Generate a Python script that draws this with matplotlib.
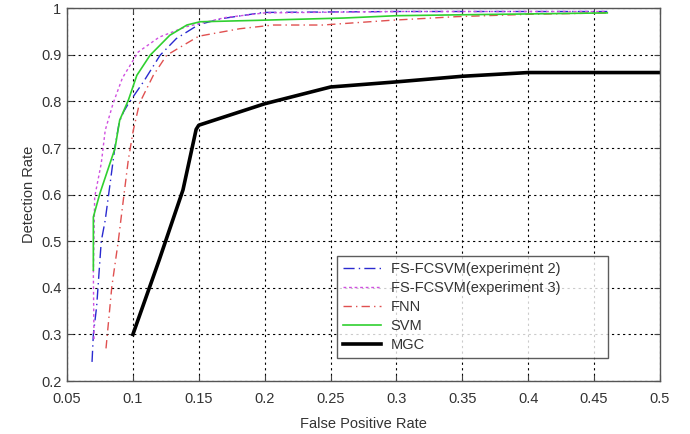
import matplotlib
matplotlib.use('Agg')
import matplotlib.pyplot as plt

# ROC-кривые для разных методов
fs2_x = [0.069, 0.070, 0.0725, 0.076, 0.079, 0.083, 0.0864, 0.0897, 0.093, 0.0965, 0.108, 0.1206,
         0.133, 0.150, 0.168, 0.199, 0.30, 0.40, 0.46]
fs2_y = [0.241, 0.30, 0.36, 0.50, 0.545, 0.63, 0.703, 0.756, 0.778, 0.795, 0.842, 0.899,
         0.935, 0.965, 0.978, 0.991, 0.993, 0.993, 0.993]

fs3_x = [0.0705, 0.070, 0.071, 0.076, 0.079, 0.085, 0.092, 0.098, 0.104, 0.12, 0.14, 0.17, 0.20, 0.30, 0.46]
fs3_y = [0.29, 0.43, 0.595, 0.667, 0.738, 0.796, 0.85, 0.878, 0.906, 0.938, 0.96, 0.98, 0.99, 0.993, 0.993]

fnn_x = [0.0796, 0.084, 0.089, 0.0915, 0.0965, 0.1003, 0.105, 0.1155, 0.1256, 0.138, 0.150,
         0.181, 0.2066, 0.244, 0.295, 0.346, 0.40, 0.46]
fnn_y = [0.27, 0.402, 0.502, 0.56, 0.674, 0.738, 0.796, 0.856, 0.899, 0.92, 0.94,
         0.956, 0.964, 0.964, 0.974, 0.982, 0.987, 0.99]

svm_x = [0.070, 0.070, 0.075, 0.0864, 0.090, 0.0966, 0.103, 0.113, 0.128, 0.141, 0.151,
         0.194, 0.26, 0.30, 0.35, 0.46]
svm_y = [0.438, 0.552, 0.603, 0.699, 0.76, 0.803, 0.856, 0.899, 0.942, 0.964, 0.971,
         0.974, 0.979, 0.984, 0.986, 0.99]

mgc_x = [0.10, 0.12, 0.138, 0.148, 0.15, 0.20, 0.25, 0.30, 0.35, 0.40, 0.50]
mgc_y = [0.30, 0.46, 0.61, 0.74, 0.749, 0.795, 0.831, 0.842, 0.854, 0.862, 0.862]

x_ticks = [0.05, 0.1, 0.15, 0.2, 0.25, 0.3, 0.35, 0.4, 0.45, 0.5]
y_ticks = [0.2, 0.3, 0.4, 0.5, 0.6, 0.7, 0.8, 0.9, 1.0]

plt.rcParams['font.family'] = ['Liberation Sans', 'DejaVu Sans']
txt = '#333333'

fig = plt.figure(figsize=(6.9, 4.34), dpi=100)
ax = fig.add_axes([0.0971, 0.1221, 0.8594, 0.8589])

ax.plot(fs2_x, fs2_y, color='#2a2ad0', lw=1.0, dashes=(8, 3, 1, 3), label='FS-FCSVM(experiment 2)')
ax.plot(fs3_x, fs3_y, color='#d050e0', lw=1.0, linestyle=(0, (2, 2)), label='FS-FCSVM(experiment 3)')
ax.plot(fnn_x, fnn_y, color='#e05050', lw=1.0, dashes=(6, 3, 1, 3), label='FNN')
ax.plot(svm_x, svm_y, color='#30d030', lw=1.2, label='SVM')
ax.plot(mgc_x, mgc_y, color='black', lw=2.6, label='MGC')

ax.set_xlim(0.05, 0.5)
ax.set_ylim(0.2, 1.0)
ax.set_xticks(x_ticks)
ax.set_xticklabels(['0.05', '0.1', '0.15', '0.2', '0.25', '0.3', '0.35', '0.4', '0.45', '0.5'])
ax.set_yticks(y_ticks)
ax.set_yticklabels(['0.2', '0.3', '0.4', '0.5', '0.6', '0.7', '0.8', '0.9', '1'])
ax.grid(True, color='black', linestyle=(0, (2, 3)), linewidth=0.8)
ax.tick_params(direction='in', top=True, right=True, length=4, labelsize=10.5,
               labelcolor=txt, color='#444444')
ax.tick_params(axis='x', pad=8)
ax.tick_params(axis='y', pad=4)
for s in ax.spines.values():
    s.set_color('#555555')
    s.set_linewidth(1.0)

ax.set_xlabel('False Positive Rate', fontsize=10.5, color=txt, labelpad=8)
ax.set_ylabel('Detection Rate', fontsize=10.5, color=txt, labelpad=4)

leg = ax.legend(loc='lower left', bbox_to_anchor=(0.455, 0.0617, 0.457, 0.284), mode='expand',
                fontsize=10.5, frameon=True, fancybox=False, handlelength=2.6,
                borderaxespad=0, labelspacing=0.35, handletextpad=0.7)
leg.get_frame().set_edgecolor('#333333')
leg.get_frame().set_linewidth(1.0)
for t in leg.get_texts():
    t.set_color(txt)

fig.savefig('out.png', dpi=100)
